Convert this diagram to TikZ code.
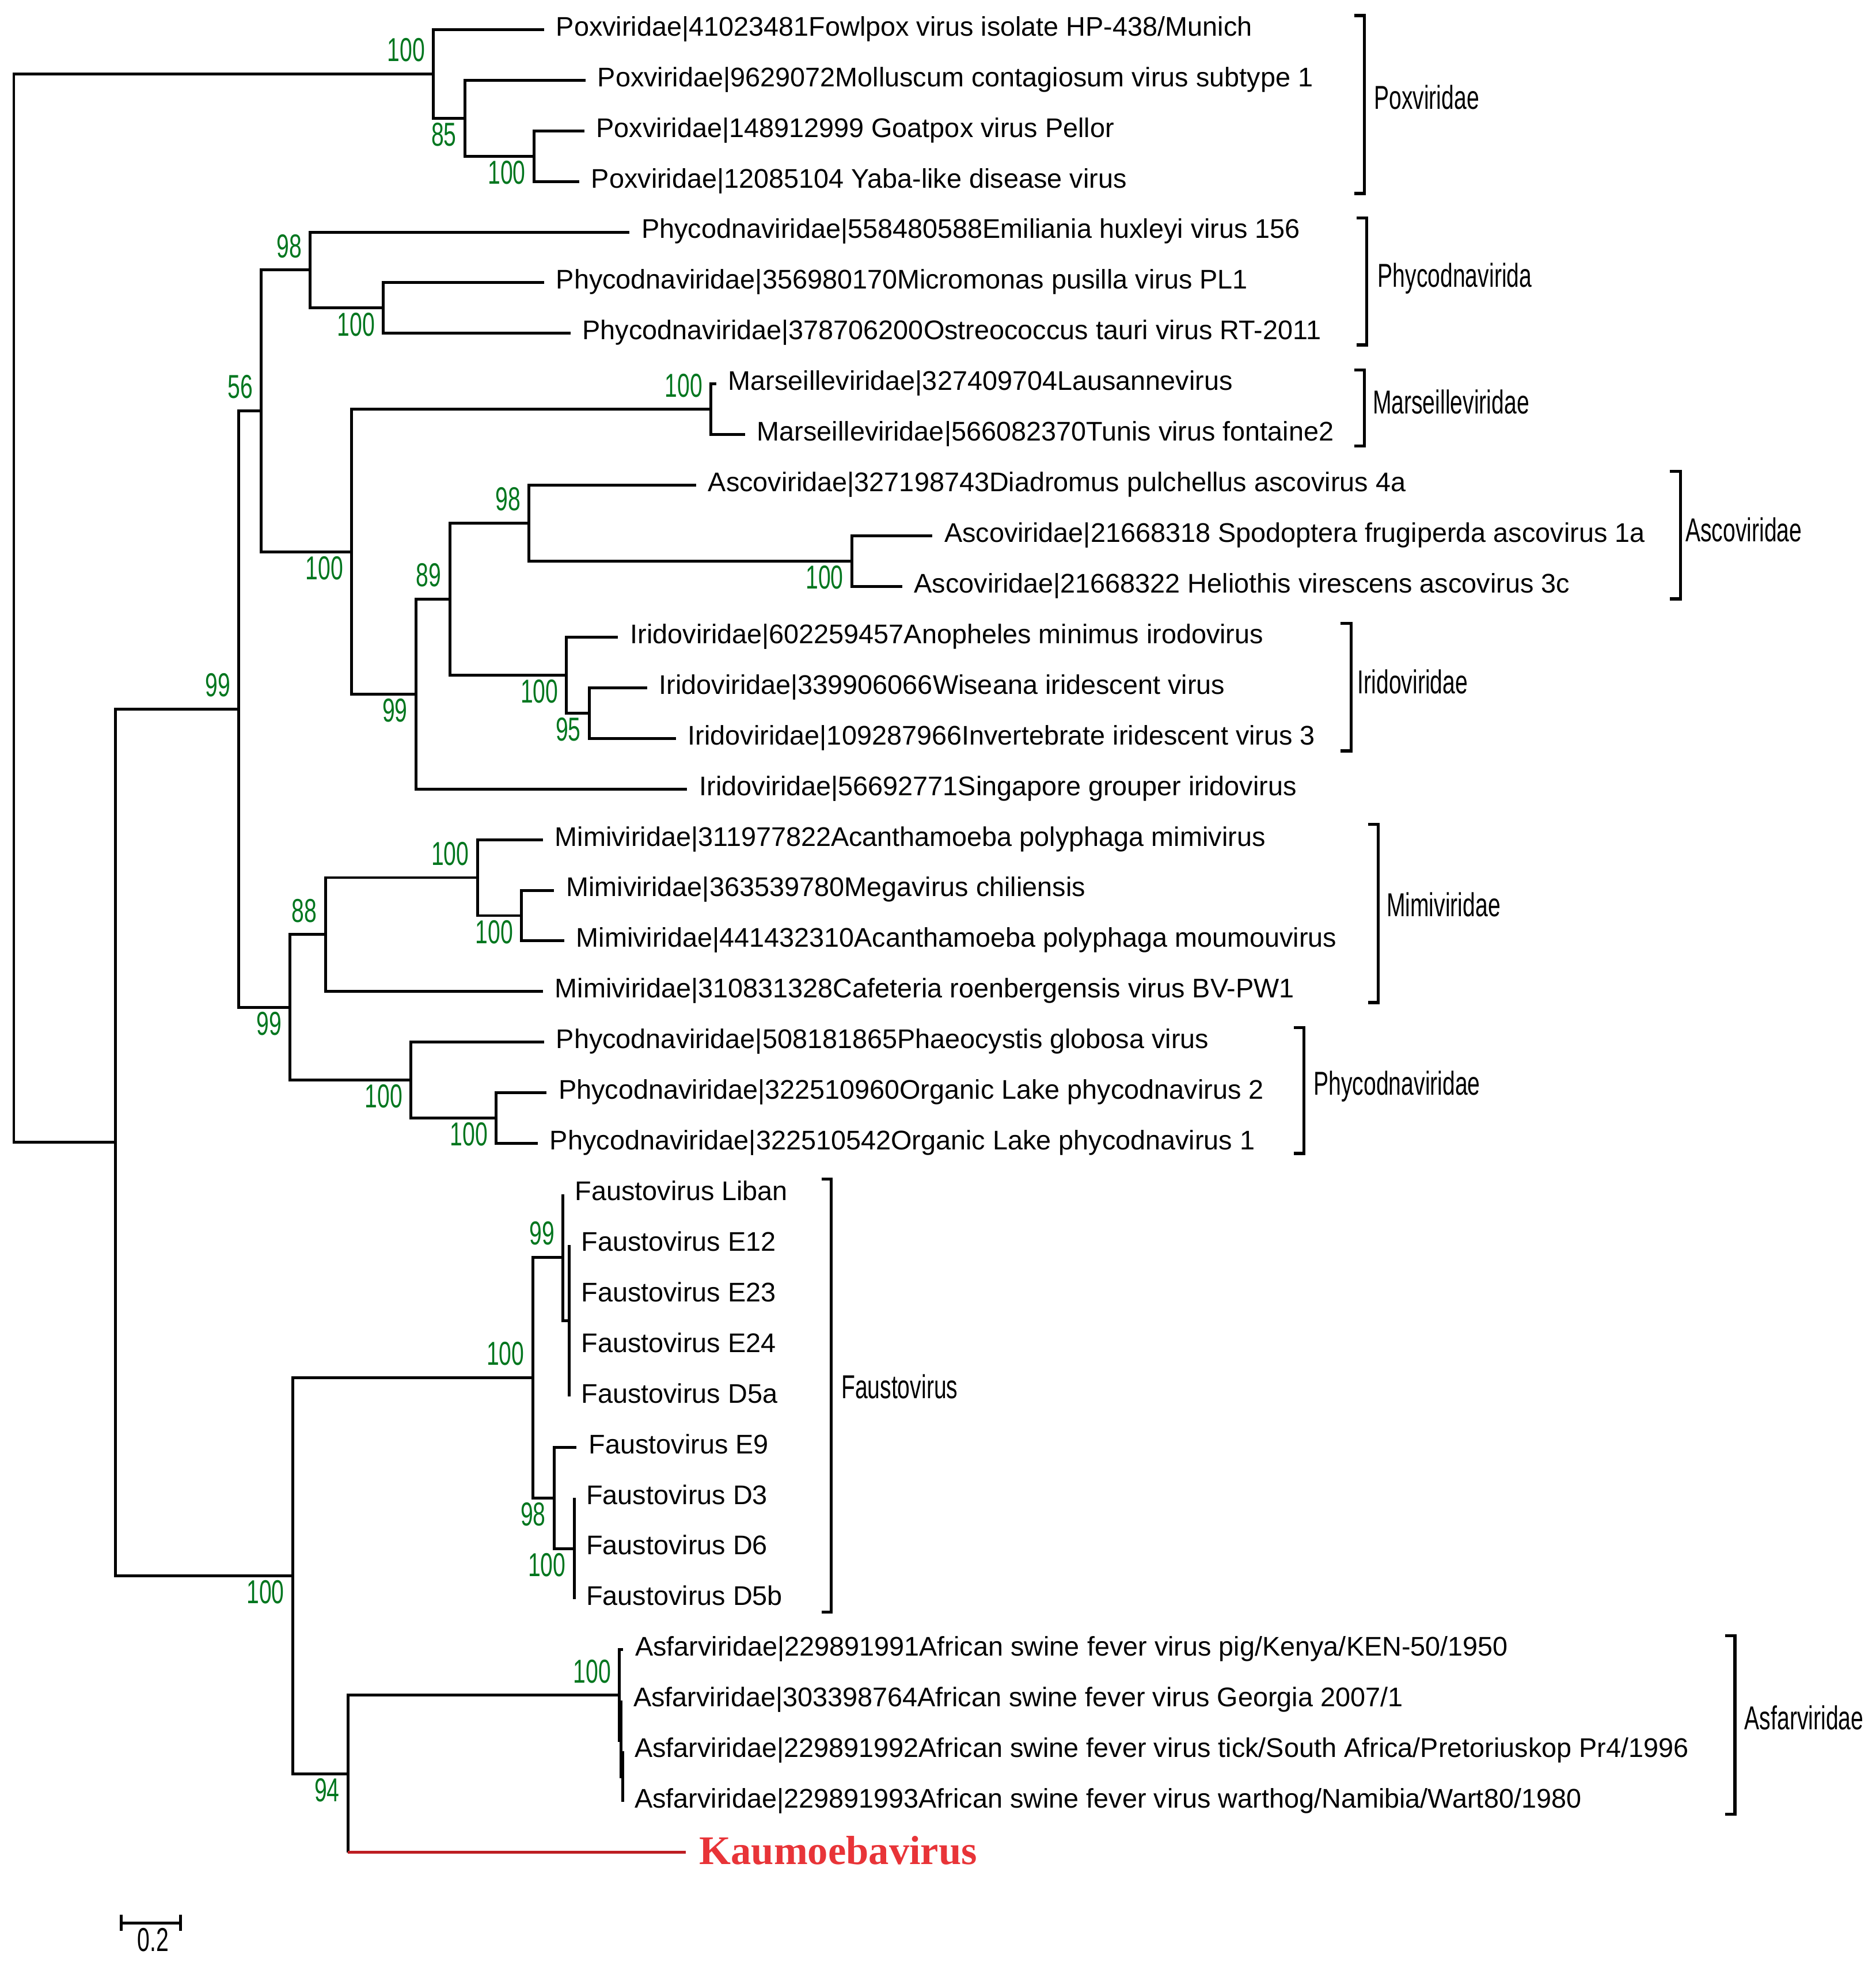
\documentclass[tikz,border=0pt]{standalone}
\usepackage{fontspec}
\setmainfont{Liberation Sans}
\newfontfamily\kaufont{Liberation Serif}

\definecolor{bsgreen}{RGB}{0,118,30}
\definecolor{kaured}{RGB}{232,52,56}
\definecolor{kauline}{RGB}{190,30,35}
\newcommand{\slimtxt}[1]{\scalebox{0.68}[1]{#1}}

\tikzset{
  branch/.style={line width=0.65pt},
  bracket/.style={line width=0.7pt},
  leaf/.style={anchor=base west, inner sep=0pt, xshift=0.09cm, yshift=-0.05cm,
    font=\fontsize{6.1}{7}\selectfont},
  bsup/.style={anchor=south east, inner sep=0pt, xshift=-0.06cm, yshift=0.09cm,
    text=bsgreen, font=\fontsize{7.5}{9}\selectfont},
  bsdown/.style={anchor=north east, inner sep=0pt, xshift=-0.06cm, yshift=-0.03cm,
    text=bsgreen, font=\fontsize{7.5}{9}\selectfont},
  famlabel/.style={anchor=base west, inner sep=0pt, font=\fontsize{7.5}{9}\selectfont}
}

\begin{document}
\begin{tikzpicture}[x=0.01cm,y=-0.01cm]
  \useasboundingbox (0,0) rectangle (1493,1568);

  % internal nodes
  \coordinate (R) at (11,484);
  \coordinate (P1) at (345,58.75);
  \coordinate (P2) at (370,94);
  \coordinate (P3) at (425,124.25);
  \coordinate (M) at (92,909.3);
  \coordinate (G) at (190,564.4);
  \coordinate (PMA) at (208,327);
  \coordinate (Pe) at (247,214.9);
  \coordinate (Pm) at (305,245.15);
  \coordinate (MA) at (280,439.1);
  \coordinate (Ma) at (566,325.75);
  \coordinate (AIS) at (331,552.4);
  \coordinate (AI) at (358,476.9);
  \coordinate (As1) at (421,416.4);
  \coordinate (As2) at (678,446.65);
  \coordinate (Ir1) at (451,537.3);
  \coordinate (Ir2) at (469,567.55);
  \coordinate (MP) at (231,801.8);
  \coordinate (Mi1) at (259,743.85);
  \coordinate (Mi2) at (380,698.5);
  \coordinate (Mi3) at (415,728.75);
  \coordinate (Ph2) at (327,859.7);
  \coordinate (Ph3) at (395,889.95);
  \coordinate (FA) at (233,1254.15);
  \coordinate (F) at (424,1096.5);
  \coordinate (Fb) at (448,1000.8);
  \coordinate (Fa) at (453,1051.15);
  \coordinate (Fc) at (441,1192.2);
  \coordinate (Fd) at (457,1232.5);
  \coordinate (KA) at (277,1411.8);
  \coordinate (Asf) at (493,1349.3);
  \coordinate (Asb) at (494.5,1385.5);
  \coordinate (Asc) at (495.5,1414);

  % leaf tips
  \coordinate (L1) at (433,23.5);
  \coordinate (L2) at (466,63.8);
  \coordinate (L3) at (465,104.1);
  \coordinate (L4) at (461,144.4);
  \coordinate (L5) at (501,184.7);
  \coordinate (L6) at (433,225);
  \coordinate (L7) at (454,265.3);
  \coordinate (L8) at (570,305.6);
  \coordinate (L9) at (593,345.9);
  \coordinate (L10) at (554,386.2);
  \coordinate (L11) at (742,426.5);
  \coordinate (L12) at (718,466.8);
  \coordinate (L13) at (492,507.1);
  \coordinate (L14) at (515,547.4);
  \coordinate (L15) at (538,587.7);
  \coordinate (L16) at (547,628);
  \coordinate (L17) at (432,668.3);
  \coordinate (L18) at (441,708.6);
  \coordinate (L19) at (449,748.9);
  \coordinate (L20) at (432,789.2);
  \coordinate (L21) at (433,829.5);
  \coordinate (L22) at (435,869.8);
  \coordinate (L23) at (428,910.1);
  \coordinate (L24) at (448,950.4);
  \coordinate (L25) at (453,990.7);
  \coordinate (L26) at (453,1031);
  \coordinate (L27) at (453,1071.3);
  \coordinate (L28) at (453,1111.6);
  \coordinate (L29) at (459,1151.9);
  \coordinate (L30) at (457,1192.2);
  \coordinate (L31) at (457,1232.5);
  \coordinate (L32) at (457,1272.8);
  \coordinate (L33) at (496,1313.1);
  \coordinate (L34) at (494.5,1353.4);
  \coordinate (L35) at (495.5,1393.7);
  \coordinate (L36) at (495.5,1434);
  \coordinate (L37) at (546,1474.3);

  % branches
  \foreach \p/\c in {R/P1,R/M,P1/L1,P1/P2,P2/L2,P2/P3,P3/L3,P3/L4,
      M/G,M/FA,G/PMA,G/MP,PMA/Pe,PMA/MA,Pe/L5,Pe/Pm,Pm/L6,Pm/L7,
      MA/Ma,MA/AIS,Ma/L8,Ma/L9,AIS/AI,AIS/L16,AI/As1,AI/Ir1,
      As1/L10,As1/As2,As2/L11,As2/L12,Ir1/L13,Ir1/Ir2,Ir2/L14,Ir2/L15,
      MP/Mi1,MP/Ph2,Mi1/Mi2,Mi1/L20,Mi2/L17,Mi2/Mi3,Mi3/L18,Mi3/L19,
      Ph2/L21,Ph2/Ph3,Ph3/L22,Ph3/L23,
      FA/F,FA/KA,F/Fb,F/Fc,Fb/L24,Fb/Fa,Fa/L25,Fa/L26,Fa/L27,Fa/L28,
      Fc/L29,Fc/Fd,Fd/L30,Fd/L31,Fd/L32,
      KA/Asf,Asf/L33,Asf/Asb,Asb/L34,Asb/Asc,Asc/L35,Asc/L36}
    \draw[branch] (\p) |- (\c);
  \draw[branch] (KA) -- (KA |- L37);
  \draw[branch,kauline] (KA |- L37) -- (L37);

  % bootstrap values
  \foreach \n/\v in {P1/100,Pe/98,PMA/56,Ma/100,AI/89,As1/98,G/99,
      Mi1/88,Mi2/100,F/100,Fb/99,Asf/100}
    \node[bsup] (bs\n) at (\n) {\slimtxt{\v}};
  \foreach \n/\v in {P2/85,P3/100,Pm/100,MA/100,AIS/99,As2/100,Ir1/100,
      Ir2/95,MP/99,Mi3/100,Ph2/100,Ph3/100,FA/100,Fc/98,Fd/100,KA/94}
    \node[bsdown] (bs\n) at (\n) {\slimtxt{\v}};

  % taxa
  \node[leaf] (t1) at (L1) {Poxviridae|41023481Fowlpox virus isolate HP-438/Munich};
  \node[leaf] (t2) at (L2) {Poxviridae|9629072Molluscum contagiosum virus subtype 1};
  \node[leaf] (t3) at (L3) {Poxviridae|148912999 Goatpox virus Pellor};
  \node[leaf] (t4) at (L4) {Poxviridae|12085104 Yaba-like disease virus};
  \node[leaf] (t5) at (L5) {Phycodnaviridae|558480588Emiliania huxleyi virus 156};
  \node[leaf] (t6) at (L6) {Phycodnaviridae|356980170Micromonas pusilla virus PL1};
  \node[leaf] (t7) at (L7) {Phycodnaviridae|378706200Ostreococcus tauri virus RT-2011};
  \node[leaf] (t8) at (L8) {Marseilleviridae|327409704Lausannevirus};
  \node[leaf] (t9) at (L9) {Marseilleviridae|566082370Tunis virus fontaine2};
  \node[leaf] (t10) at (L10) {Ascoviridae|327198743Diadromus pulchellus ascovirus 4a};
  \node[leaf] (t11) at (L11) {Ascoviridae|21668318 Spodoptera frugiperda ascovirus 1a};
  \node[leaf] (t12) at (L12) {Ascoviridae|21668322 Heliothis virescens ascovirus 3c};
  \node[leaf] (t13) at (L13) {Iridoviridae|602259457Anopheles minimus irodovirus};
  \node[leaf] (t14) at (L14) {Iridoviridae|339906066Wiseana iridescent virus};
  \node[leaf] (t15) at (L15) {Iridoviridae|109287966Invertebrate iridescent virus 3};
  \node[leaf] (t16) at (L16) {Iridoviridae|56692771Singapore grouper iridovirus};
  \node[leaf] (t17) at (L17) {Mimiviridae|311977822Acanthamoeba polyphaga mimivirus};
  \node[leaf] (t18) at (L18) {Mimiviridae|363539780Megavirus chiliensis};
  \node[leaf] (t19) at (L19) {Mimiviridae|441432310Acanthamoeba polyphaga moumouvirus};
  \node[leaf] (t20) at (L20) {Mimiviridae|310831328Cafeteria roenbergensis virus BV-PW1};
  \node[leaf] (t21) at (L21) {Phycodnaviridae|508181865Phaeocystis globosa virus};
  \node[leaf] (t22) at (L22) {Phycodnaviridae|322510960Organic Lake phycodnavirus 2};
  \node[leaf] (t23) at (L23) {Phycodnaviridae|322510542Organic Lake phycodnavirus 1};
  \node[leaf] (t24) at (L24) {Faustovirus Liban};
  \node[leaf] (t25) at (L25) {Faustovirus E12};
  \node[leaf] (t26) at (L26) {Faustovirus E23};
  \node[leaf] (t27) at (L27) {Faustovirus E24};
  \node[leaf] (t28) at (L28) {Faustovirus D5a};
  \node[leaf] (t29) at (L29) {Faustovirus E9};
  \node[leaf] (t30) at (L30) {Faustovirus D3};
  \node[leaf] (t31) at (L31) {Faustovirus D6};
  \node[leaf] (t32) at (L32) {Faustovirus D5b};
  \node[leaf] (t33) at (L33) {Asfarviridae|229891991African swine fever virus pig/Kenya/KEN-50/1950};
  \node[leaf] (t34) at (L34) {Asfarviridae|303398764African swine fever virus Georgia 2007/1};
  \node[leaf] (t35) at (L35) {Asfarviridae|229891992African swine fever virus tick/South Africa/Pretoriuskop Pr4/1996};
  \node[leaf] (t36) at (L36) {Asfarviridae|229891993African swine fever virus warthog/Namibia/Wart80/1980};
  \node[anchor=base west, inner sep=0pt, xshift=0.1cm, yshift=-0.094cm, text=kaured,
    font=\kaufont\fontsize{9.2}{10}\selectfont\bfseries] (t37) at (L37) {Kaumoebavirus};

  % families
  \draw[bracket] (1078,12.3) -- (1086,12.3) -- (1086,154) -- (1078,154);
  \node[famlabel] (fpox) at (1093,87) {\slimtxt{Poxviridae}};
  \draw[bracket] (1080,173.6) -- (1088,173.6) -- (1088,274.5) -- (1080,274.5);
  \node[famlabel] (fphy1) at (1096,228.3) {\slimtxt{Phycodnavirida}};
  \draw[bracket] (1078,294.6) -- (1086,294.6) -- (1086,355) -- (1078,355);
  \node[famlabel] (fmar) at (1092,329.5) {\slimtxt{Marseilleviridae}};
  \draw[bracket] (1329,375) -- (1337.6,375) -- (1337.6,476.7) -- (1329,476.7);
  \node[famlabel] (fasc) at (1341,431) {\slimtxt{Ascoviridae}};
  \draw[bracket] (1067,496) -- (1075.6,496) -- (1075.6,597.6) -- (1067,597.6);
  \node[famlabel] (fir) at (1080,552) {\slimtxt{Iridoviridae}};
  \draw[bracket] (1089,656) -- (1097,656) -- (1097,798) -- (1089,798);
  \node[famlabel] (fmim) at (1103,729.5) {\slimtxt{Mimiviridae}};
  \draw[bracket] (1030,818) -- (1038,818) -- (1038,918) -- (1030,918);
  \node[famlabel] (fphy2) at (1045,871.5) {\slimtxt{Phycodnaviridae}};
  \draw[bracket] (654,938.4) -- (661.5,938.4) -- (661.5,1283) -- (654,1283);
  \node[famlabel] (ffau) at (669,1113) {\slimtxt{Faustovirus}};
  \draw[bracket] (1373,1302) -- (1381,1302) -- (1381,1444) -- (1373,1444);
  \node[famlabel] (fasf) at (1388,1376.5) {\slimtxt{Asfarviridae}};

  % scale bar
  \coordinate (sbl) at (96.6,1530.5);
  \coordinate (sbr) at (143.6,1530.5);
  \draw[branch] (sbl) -- (sbr);
  \draw[branch] ([yshift=0.065cm]sbl) -- ([yshift=-0.065cm]sbl);
  \draw[branch] ([yshift=0.065cm]sbr) -- ([yshift=-0.065cm]sbr);
  \node[anchor=north, inner sep=0pt, font=\fontsize{7.5}{9}\selectfont] (sblab) at (122,1534) {\slimtxt{0.2}};
\end{tikzpicture}
\end{document}
